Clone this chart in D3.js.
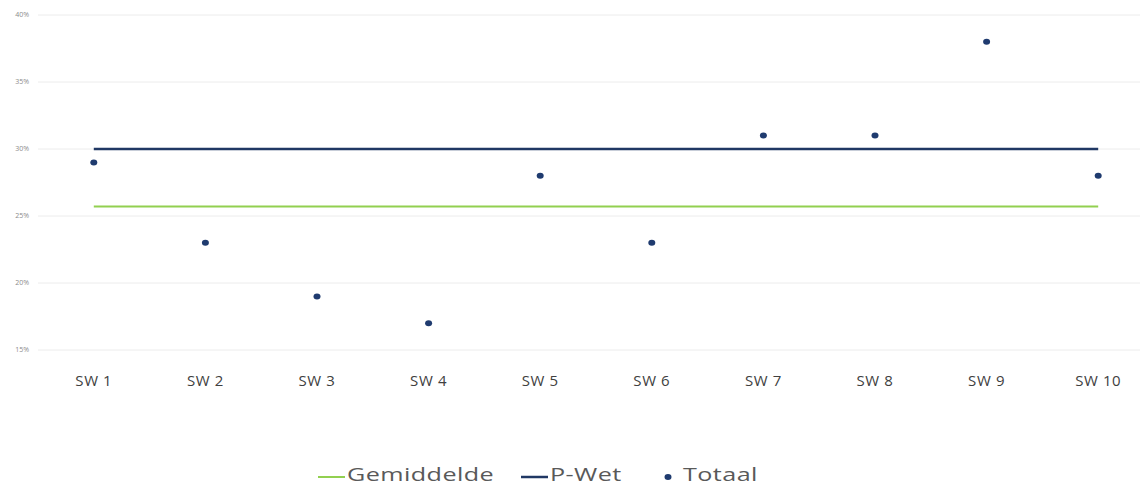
<!DOCTYPE html>
<html>
<head>
<meta charset="utf-8">
<script src="https://cdn.jsdelivr.net/npm/d3@7"></script>
<style>
  body { margin: 0; background: #fff; }
  svg { display: block; font-family: "Open Sans", "Noto Sans", sans-serif; }
</style>
</head>
<body>
<div id="chart"></div>
<script>
const categories = ["SW 1", "SW 2", "SW 3", "SW 4", "SW 5", "SW 6", "SW 7", "SW 8", "SW 9", "SW 10"];
const totaal = [29, 23, 19, 17, 28, 23, 31, 31, 38, 28];
const gemiddelde = [25.7, 25.7, 25.7, 25.7, 25.7, 25.7, 25.7, 25.7, 25.7, 25.7];
const pWet = [30, 30, 30, 30, 30, 30, 30, 30, 30, 30];
const yTicks = [15, 20, 25, 30, 35, 40];
const legendItems = [
    { name: "Gemiddelde", type: "line", color: "#92d050" },
    { name: "P-Wet", type: "line", color: "#203864" },
    { name: "Totaal", type: "dot", color: "#1f3b6f" }
];

const width = 1140;
const height = 486;
const margin = { top: 15, right: -14, bottom: 136, left: 38 };

const svg = d3.select("#chart")
    .append("svg")
    .attr("width", width)
    .attr("height", height);

const x = d3.scaleBand()
    .domain(categories)
    .range([margin.left, width - margin.right]);

const y = d3.scaleLinear()
    .domain([15, 40])
    .range([height - margin.bottom, margin.top]);

const cx = d => x(d) + x.bandwidth() / 2;

// gridlines
svg.append("g")
    .selectAll("line")
    .data(yTicks)
    .enter()
    .append("line")
    .attr("x1", margin.left)
    .attr("x2", width)
    .attr("y1", d => y(d))
    .attr("y2", d => y(d))
    .attr("stroke", "#ececec")
    .attr("stroke-width", 1);

// y labels
svg.append("g")
    .selectAll("text")
    .data(yTicks)
    .enter()
    .append("text")
    .attr("x", 29)
    .attr("y", d => y(d))
    .attr("dy", "0.35em")
    .attr("text-anchor", "end")
    .style("font-size", "7px")
    .style("fill", "#8c8c8c")
    .text(d => d + "%");

// x labels
svg.append("g")
    .selectAll("text")
    .data(categories)
    .enter()
    .append("text")
    .attr("x", d => cx(d))
    .attr("y", 386)
    .attr("text-anchor", "middle")
    .style("font-size", "15px")
    .style("letter-spacing", "0.6px")
    .style("fill", "#404040")
    .text(d => d);

const line = d3.line()
    .x((d, i) => cx(categories[i]))
    .y(d => y(d));

svg.append("path")
    .datum(gemiddelde)
    .attr("fill", "none")
    .attr("stroke", "#92d050")
    .attr("stroke-width", 2)
    .attr("d", line);

svg.append("path")
    .datum(pWet)
    .attr("fill", "none")
    .attr("stroke", "#203864")
    .attr("stroke-width", 2.5)
    .attr("d", line);

svg.append("g")
    .selectAll("ellipse")
    .data(totaal)
    .enter()
    .append("ellipse")
    .attr("cx", (d, i) => cx(categories[i]))
    .attr("cy", d => y(d))
    .attr("rx", 3.5)
    .attr("ry", 3)
    .attr("fill", "#1f3b6f");

// legend
const legendX = [318, 521, 664];
const legend = svg.append("g")
    .selectAll("g")
    .data(legendItems)
    .enter()
    .append("g")
    .attr("transform", (d, i) => `translate(${legendX[i]},477)`);

legend.filter(d => d.type === "line")
    .append("line")
    .attr("x1", 0)
    .attr("x2", 27)
    .attr("stroke", d => d.color)
    .attr("stroke-width", d => d.name === "P-Wet" ? 2.5 : 2);

legend.filter(d => d.type === "dot")
    .append("ellipse")
    .attr("cx", 4)
    .attr("rx", 3.5)
    .attr("ry", 3)
    .attr("fill", d => d.color);

legend.append("text")
    .attr("transform", d => `translate(${d.type === "line" ? 29 : 19},0) scale(1.4,1)`)
    .attr("y", 4)
    .style("font-size", "18px")
    .style("letter-spacing", "0.3px")
    .style("fill", "#595959")
    .text(d => d.name);
</script>
</body>
</html>
